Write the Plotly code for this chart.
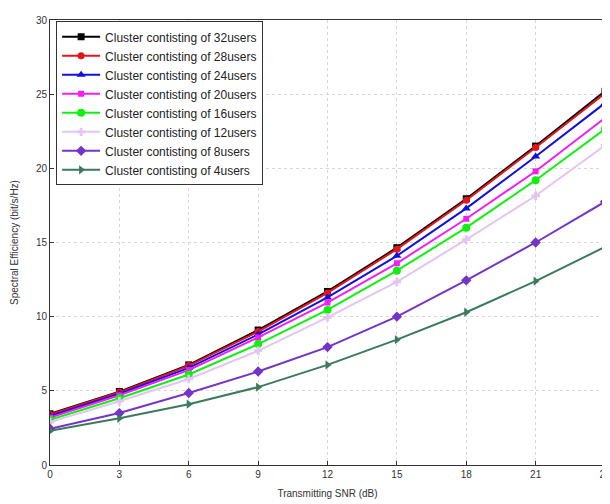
import plotly.graph_objects as go

snr_db = [0, 3, 6, 9, 12, 15, 18, 21, 24]

users_32 = [3.45, 4.95, 6.75, 9.1, 11.7, 14.65, 17.95, 21.5, 25.2]
users_28 = [3.4, 4.9, 6.7, 9.0, 11.6, 14.55, 17.85, 21.4, 25.05]
users_24 = [3.3, 4.8, 6.55, 8.8, 11.3, 14.1, 17.3, 20.8, 24.4]
users_20 = [3.2, 4.7, 6.4, 8.6, 10.95, 13.6, 16.6, 19.8, 23.4]
users_16 = [3.05, 4.5, 6.1, 8.15, 10.45, 13.1, 16.0, 19.2, 22.65]
users_12 = [2.9, 4.3, 5.8, 7.7, 9.95, 12.35, 15.2, 18.15, 21.55]
users_8 = [2.45, 3.5, 4.85, 6.3, 7.95, 10.0, 12.45, 15.0, 17.75]
users_4 = [2.3, 3.15, 4.1, 5.25, 6.75, 8.45, 10.3, 12.4, 14.7]

series_names = [
    "Cluster contisting of 32users",
    "Cluster contisting of 28users",
    "Cluster contisting of 24users",
    "Cluster contisting of 20users",
    "Cluster contisting of 16users",
    "Cluster contisting of 12users",
    "Cluster contisting of 8users",
    "Cluster contisting of 4users",
]
series_values = [users_32, users_28, users_24, users_20, users_16, users_12, users_8, users_4]
colors = ["#000000", "#e8141c", "#1010e0", "#f020f0", "#10f010", "#e4c4f0", "#7434c8", "#3a7a5e"]
symbols = ["square", "circle", "triangle-up", "square", "circle", "cross", "diamond", "triangle-right"]
sizes = [7, 7, 8, 6, 8, 7, 8, 8]

fig = go.Figure()
for name, vals, c, s, sz in zip(series_names, series_values, colors, symbols, sizes):
    fig.add_trace(go.Scatter(
        x=snr_db, y=vals, name=name, mode="lines+markers",
        line=dict(color=c, width=2),
        marker=dict(symbol=s, size=sz, color=c),
    ))

axis_font = dict(family="Liberation Sans, Arial, sans-serif", size=10, color="#333333")

fig.update_layout(
    width=610, height=504,
    margin=dict(l=41, r=13, t=6, b=47),
    paper_bgcolor="white", plot_bgcolor="white",
    font=axis_font,
    showlegend=True,
    legend=dict(
        x=0.011, y=0.997, xanchor="left", yanchor="top",
        bgcolor="white", bordercolor="#333333", borderwidth=1,
        font=dict(family="Liberation Sans, Arial, sans-serif", size=12, color="#222222"),
        tracegroupgap=0, itemwidth=38,
    ),
)
fig.update_xaxes(
    range=[0, 24], tickmode="array", tickvals=snr_db, ticktext=[str(v) for v in snr_db],
    showline=True, linecolor="#333333", linewidth=1, mirror=True,
    ticks="inside", ticklen=4, tickcolor="#333333",
    showgrid=True, gridcolor="#d8d8d8", griddash="dot", gridwidth=1,
    zeroline=False,
    title=dict(text="Transmitting SNR (dB)", standoff=10, font=axis_font),
)
fig.update_yaxes(
    range=[0, 30], tickmode="array", tickvals=[0, 5, 10, 15, 20, 25, 30],
    showline=True, linecolor="#333333", linewidth=1, mirror=True,
    ticks="inside", ticklen=4, tickcolor="#333333",
    showgrid=True, gridcolor="#d8d8d8", griddash="dot", gridwidth=1,
    zeroline=False,
    title=dict(text="Spectral Efficiency (bit/s/Hz)", standoff=15, font=axis_font),
)

fig.write_html("out.html")
